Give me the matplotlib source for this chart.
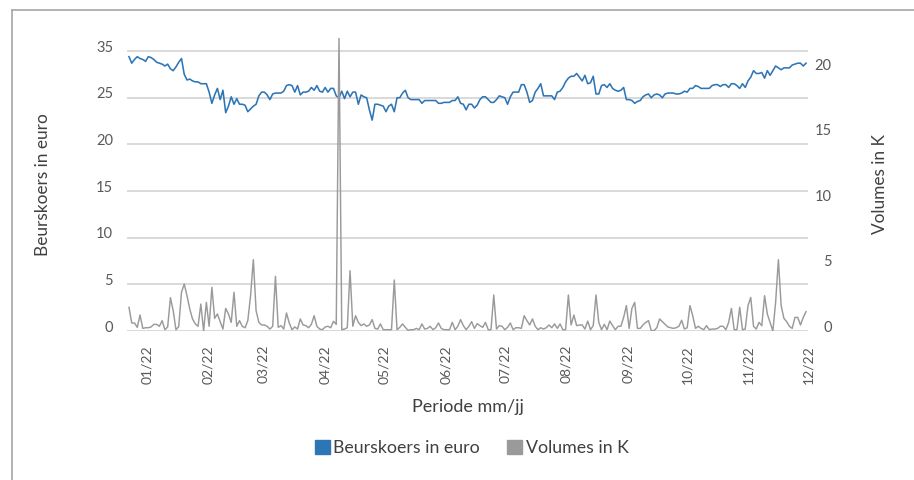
import matplotlib
matplotlib.use("Agg")
import matplotlib.pyplot as plt
import matplotlib.dates as mdates
from matplotlib.patches import Patch
from matplotlib.lines import Line2D
from matplotlib.transforms import ScaledTranslation
import pandas as pd

# daily share price (left axis) and traded volume in K (right axis)
price = [
    29.4, 28.7, 29.1, 29.4, 29.2, 29.1, 28.9, 29.4, 29.3, 29.1,
    28.8, 28.7, 28.6, 28.4, 28.6, 28.1, 27.9, 28.3, 28.8, 29.2,
    27.5, 26.9, 27.0, 26.8, 26.7, 26.7, 26.5, 26.5, 26.5, 25.6,
    24.4, 25.3, 26.0, 24.8, 25.8, 23.4, 24.1, 25.1, 24.3, 24.9,
    24.3, 24.3, 24.2, 23.5, 23.8, 24.1, 24.3, 25.2, 25.6, 25.6,
    25.3, 24.8, 25.4, 25.5, 25.5, 25.5, 25.7, 26.3, 26.4, 26.3,
    25.6, 26.3, 25.3, 25.6, 25.6, 25.7, 26.1, 25.8, 26.3, 25.7,
    25.6, 26.1, 25.6, 26.0, 26.0, 25.2, 25.0, 25.7, 24.9, 25.7,
    25.1, 25.6,
    25.6, 24.3, 25.3, 25.1, 25.0, 23.7, 22.6, 24.3, 24.3, 24.2,
    24.1, 23.5, 24.1, 24.3, 23.5, 25.0, 25.0, 25.5, 25.8, 25.0,
    24.8, 24.8, 24.8, 24.8, 24.4, 24.7, 24.7, 24.7, 24.7, 24.7,
    24.4, 24.4, 24.5, 24.5, 24.5, 24.7, 24.7, 25.1, 24.4, 24.3,
    23.7, 24.3, 24.3, 23.9, 24.2, 24.8, 25.1, 25.1, 24.8, 24.5,
    24.5, 24.8, 25.2, 25.1, 25.0, 24.3, 25.1, 25.6, 25.6, 25.6,
    26.4, 26.4, 25.6, 24.5, 24.7, 25.6, 26.0, 26.5, 25.2, 25.2,
    25.2, 25.2, 24.8, 25.6, 25.7, 26.1, 26.7, 27.1, 27.3, 27.3,
    27.6, 27.2, 26.8,
    27.4, 26.5, 26.6, 27.3, 25.4, 25.4, 26.3, 26.4, 26.1, 26.5,
    26.0, 25.8, 25.7, 25.8, 26.1, 24.8, 24.8, 24.7, 24.4, 24.6,
    24.7, 25.1, 25.3, 25.4, 25.0, 25.3, 25.4, 25.3, 25.0, 25.4,
    25.5, 25.5, 25.5, 25.4, 25.4, 25.5, 25.7, 25.6, 26.0, 26.0,
    26.3, 26.2, 26.0, 26.0, 26.0, 26.0, 26.3, 26.4, 26.4, 26.2,
    26.4, 26.4, 26.1, 26.5, 26.5, 26.3, 26.0, 26.5, 26.1, 26.8,
    27.2, 27.9, 27.6, 27.6, 27.7, 27.1, 27.9, 27.4, 27.9, 28.4,
    28.2, 28.0, 28.2, 28.2, 28.2, 28.5, 28.6, 28.7, 28.7, 28.4,
    28.7,
]

volume = [
    1.81, 0.61, 0.61, 0.28, 1.22, 0.20, 0.25, 0.25, 0.31, 0.51,
    0.51, 0.36, 0.79, 0.10, 0.31, 2.55, 1.55, 0.10, 0.33, 2.96,
    3.59, 2.70, 1.68, 0.92, 0.54, 0.36, 2.06, 0.00, 2.19, 0.36,
    3.34, 0.97, 1.30, 0.71, 0.15, 1.73, 1.30, 0.66, 2.96, 0.36,
    0.79, 0.36, 0.25, 0.79, 2.70, 5.45, 1.55, 0.66, 0.46, 0.46,
    0.36, 0.15, 0.36, 4.18, 0.28, 0.41, 0.15, 1.38, 0.61, 0.10,
    0.31, 0.15, 0.92, 0.46, 0.41, 0.25, 0.51, 1.17, 0.36, 0.15,
    0.10, 0.31, 0.36, 0.25, 0.74, 0.51, 22.4, 0.10, 0.15, 0.25,
    4.61, 0.36,
    1.17, 0.66, 0.41, 0.54, 0.36, 0.46, 0.87, 0.20, 0.15, 0.54,
    0.10, 0.10, 0.10, 0.10, 3.90, 0.10, 0.28, 0.54, 0.28, 0.05,
    0.10, 0.10, 0.20, 0.10, 0.54, 0.15, 0.20, 0.36, 0.10, 0.25,
    0.61, 0.20, 0.10, 0.10, 0.10, 0.66, 0.10, 0.36, 0.87, 0.41,
    0.10, 0.36, 0.71, 0.20, 0.56, 0.41, 0.28, 0.66, 0.10, 0.10,
    2.75, 0.15, 0.41, 0.36, 0.10, 0.28, 0.61, 0.10, 0.25, 0.25,
    0.20, 1.17, 0.79, 0.46, 0.92, 0.36, 0.10, 0.25, 0.15, 0.25,
    0.46, 0.25, 0.54, 0.20, 0.54, 0.10, 0.10, 2.75, 0.46, 1.22,
    0.41, 0.46, 0.46,
    0.15, 0.76, 0.10, 0.41, 2.75, 0.66, 0.10, 0.51, 0.10, 0.76,
    0.41, 0.10, 0.36, 0.36, 1.04, 1.94, 0.20, 1.73, 2.19, 0.20,
    0.20, 0.46, 0.66, 0.79, 0.03, 0.03, 0.25, 0.92, 0.71, 0.51,
    0.31, 0.25, 0.20, 0.25, 0.36, 0.82, 0.15, 0.25, 1.94, 1.17,
    0.20, 0.36, 0.20, 0.10, 0.41, 0.10, 0.15, 0.15, 0.20, 0.36,
    0.36, 0.10, 0.66, 1.73, 0.10, 0.10, 1.81, 0.10, 0.15, 1.94,
    2.57, 0.36, 0.15, 0.66, 0.41, 2.70, 1.30, 0.66, 0.00, 2.19,
    5.45, 1.94, 0.97, 0.71, 0.36, 0.20, 1.04, 1.04, 0.46, 1.04,
    1.48,
]

price_ticks = [0, 5, 10, 15, 20, 25, 30]
price_tick_labels = ["0", "5", "10", "15", "20", "25", "35"]
volume_ticks = [0, 5, 10, 15, 20]
first_day, last_day = "2021-12-23", "2022-11-30"

BLUE = "#2e75b6"
GREY = "#9c9999"
TEXT = "#595959"
LABEL = "#404040"
GRID = "#d9d9d9"

plt.rcParams["font.family"] = ["Lato", "DejaVu Sans"]

fig = plt.figure(figsize=(9.14, 4.8), dpi=100)
ax = fig.add_axes([127 / 914, 149 / 480, 681 / 914, 293 / 480])
ax2 = ax.twinx()

dates_p = pd.date_range(first_day, last_day, periods=len(price))
dates_v = pd.date_range(first_day, last_day, periods=len(volume))

ax.plot(dates_p, price, color=BLUE, lw=1.15)
ax2.plot(dates_v, volume, color=GREY, lw=1.05)

ax.set_xlim(pd.Timestamp("2021-12-22"), pd.Timestamp("2022-12-01"))
ax.set_ylim(0, 31.4)
ax2.set_ylim(0, 22.4)

ax.set_yticks(price_ticks)
ax.set_yticklabels(price_tick_labels)
ax2.set_yticks(volume_ticks)

ax.yaxis.grid(True, color=GRID, lw=1.4)
ax.set_axisbelow(True)

for a in (ax, ax2):
    for s in a.spines.values():
        s.set_visible(False)

ax.xaxis.set_major_locator(mdates.MonthLocator())
ax.xaxis.set_major_formatter(mdates.DateFormatter("%m/%y"))
ax.tick_params(axis="x", length=0, pad=10, labelsize=10, labelcolor=TEXT, labelrotation=90)
ax.tick_params(axis="y", length=0, pad=10, labelsize=10.5, labelcolor=TEXT)
ax2.tick_params(axis="y", length=0, pad=17, labelsize=10.5, labelcolor=TEXT)
for lab in ax2.get_yticklabels():
    lab.set_horizontalalignment("right")

# the tick labels sit a little above their gridlines in the original
shift = ScaledTranslation(0, 5 / 100, fig.dpi_scale_trans)
for lab in ax.get_yticklabels() + ax2.get_yticklabels():
    lab.set_transform(lab.get_transform() + shift)

ax.set_xlabel("Periode mm/jj", fontsize=13, color=LABEL)
ax.xaxis.set_label_coords(0.5, -0.232)
ax.set_ylabel("Beurskoers in euro", fontsize=12.4, color=LABEL, va="center")
ax.yaxis.set_label_coords(-0.123, 0.5)
ax2.set_ylabel("Volumes in K", fontsize=12.4, color=LABEL, va="center")
ax2.yaxis.set_label_coords(1.106, 0.5)

handles = [Patch(facecolor=BLUE, edgecolor=BLUE), Patch(facecolor=GREY, edgecolor=GREY)]
fig.legend(handles, ["Beurskoers in euro", "Volumes in K"], loc="center",
           bbox_to_anchor=(0.516, 0.067), ncol=2, frameon=False, fontsize=12.8,
           labelcolor=LABEL, handlelength=0.85, handleheight=0.85,
           handletextpad=0.2, columnspacing=1.5)

# chart border (only top and left edges are inside the picture)
fig.add_artist(Line2D([12 / 914, 1], [470 / 480, 470 / 480], transform=fig.transFigure,
                      color="#a6a6a6", lw=1.2))
fig.add_artist(Line2D([12 / 914, 12 / 914], [0, 470 / 480], transform=fig.transFigure,
                      color="#a6a6a6", lw=1.2))

fig.savefig("out.png", dpi=100)
